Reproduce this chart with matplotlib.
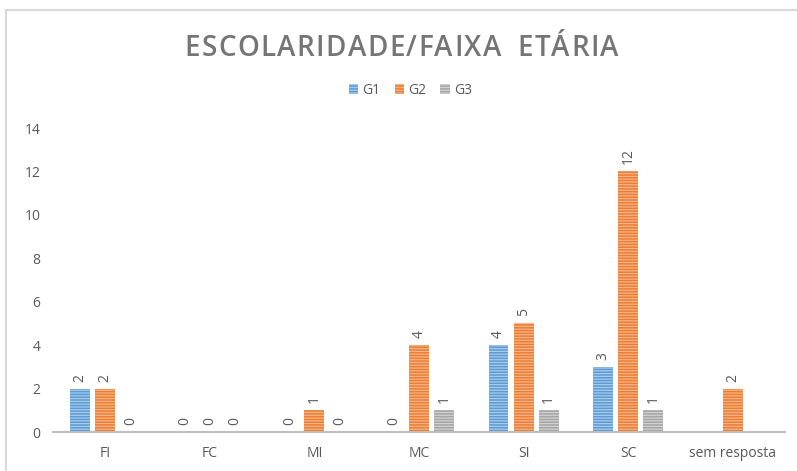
import numpy as np
import matplotlib
matplotlib.use('Agg')
import matplotlib.pyplot as plt
from matplotlib.lines import Line2D
from matplotlib.patches import Patch

categories = ['FI', 'FC', 'MI', 'MC', 'SI', 'SC', 'sem resposta']
series_names = ['G1', 'G2', 'G3']
g1 = [2, 0, 0, 0, 4, 3, np.nan]
g2 = [2, 0, 1, 4, 5, 12, 2]
g3 = [0, 0, 0, 1, 1, 1, np.nan]
y_ticks = [0, 2, 4, 6, 8, 10, 12, 14]
title = 'ESCOLARIDADE/FAIXA  ETÁRIA'

colors = ['#5B9BD5', '#ED7D31', '#A5A5A5']
stripes = ['#A9CBEA', '#F5B48A', '#D2D2D2']
text_gray = '#595959'

plt.rcParams['font.family'] = ['Open Sans', 'DejaVu Sans']
plt.rcParams['hatch.linewidth'] = 0.9

fig = plt.figure(figsize=(7.97, 4.71), dpi=100)
ax = fig.add_axes([53 / 797, 1 - 432 / 471, (785 - 53) / 797, (432 - 128) / 471])

x = np.arange(len(categories))
width = 0.19
offset = 0.24
for i, (vals, name) in enumerate(zip([g1, g2, g3], series_names)):
    pos = x + (i - 1) * offset
    vals = np.array(vals, dtype=float)
    ax.bar(pos, vals, width, color=colors[i], edgecolor=stripes[i],
           linewidth=0, hatch='-' * 6, label=name)
    for p, v in zip(pos, vals):
        if np.isnan(v):
            continue
        ax.annotate(f'{int(v)}', (p, v), xytext=(0, 5), textcoords='offset points',
                    rotation=90, ha='center', va='bottom', fontsize=10, color=text_gray)

ax.set_xlim(-0.5, len(categories) - 0.5)
ax.set_ylim(0, 14)
ax.set_yticks(y_ticks)
ax.set_xticks(x)
ax.set_xticklabels(categories)
ax.tick_params(length=0, labelsize=10, labelcolor=text_gray)
ax.tick_params(axis='x', pad=10)
ax.tick_params(axis='y', pad=9)
for s in ['top', 'right', 'left']:
    ax.spines[s].set_visible(False)
ax.spines['bottom'].set_color('#BFBFBF')
ax.spines['bottom'].set_linewidth(1.5)

# chart frame
fig.add_artist(Line2D([6 / 797, 6 / 797], [0, 1 - 10 / 471], color='#D9D9D9', lw=1.5))
fig.add_artist(Line2D([6 / 797, 1], [1 - 10 / 471, 1 - 10 / 471], color='#D9D9D9', lw=1.5))

# title with letter spacing, placed char by char
renderer = fig.canvas.get_renderer()
spacing = 1.4  # px between letters
title_y = 1 - 48 / 471
chars = []
for ch in title:
    t = fig.text(0, title_y, ch, ha='left', va='center', fontsize=20,
                 fontweight='semibold', color='#757575')
    w = t.get_window_extent(renderer).width if ch != ' ' else 6
    chars.append((t, w))
total = sum(w for _, w in chars) + spacing * (len(chars) - 1)
cur = (797 - total) / 2 + 3
for t, w in chars:
    t.set_x(cur / 797)
    cur += w + spacing

handles = [Patch(facecolor=colors[i], edgecolor=stripes[i], hatch='-' * 6, linewidth=0)
           for i in range(3)]
fig.legend(handles, series_names, loc='center', bbox_to_anchor=(0.515, 1 - 90 / 471),
           ncol=3, frameon=False, fontsize=10, labelcolor=text_gray,
           handlelength=0.7, handleheight=0.7, handletextpad=0.3, columnspacing=1.0)

fig.savefig('out.png', dpi=100)
